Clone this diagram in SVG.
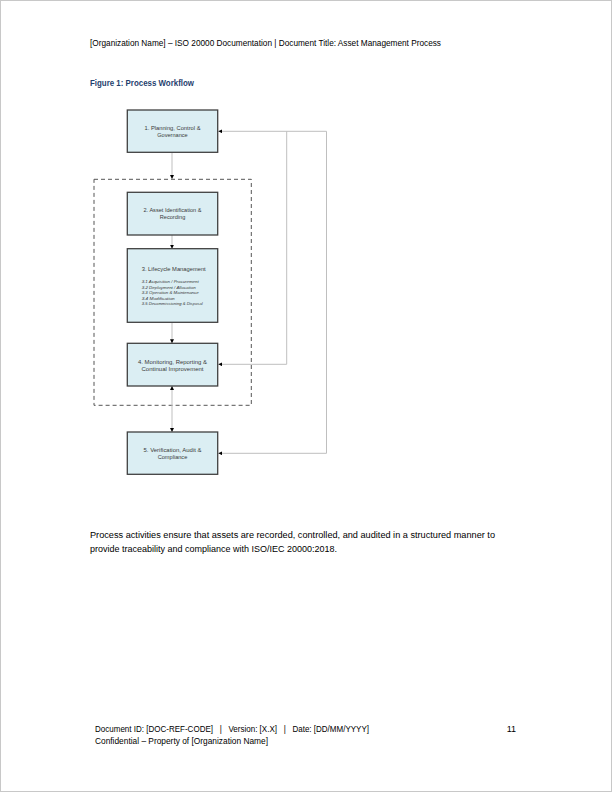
<svg xmlns="http://www.w3.org/2000/svg" width="612" height="792" viewBox="0 0 612 792">
<style>
.t{font-family:"Liberation Sans",Arial,sans-serif;fill:#000}
.f{font-family:"Liberation Sans",Arial,sans-serif;fill:#3a3a3a}
.box{fill:#dbeef3;stroke:#404040;stroke-width:1.3}
.c{fill:none;stroke:#bfbfbf;stroke-width:1}
.pre{white-space:pre}
</style>
<defs>
<marker id="a" viewBox="0 0 10 10" refX="10" refY="5" markerWidth="4" markerHeight="4" orient="auto" markerUnits="userSpaceOnUse">
<path d="M0,0 L10,5 L0,10 z" fill="#000"/>
</marker>
<marker id="as" viewBox="0 0 10 10" refX="0" refY="5" markerWidth="4" markerHeight="4" orient="auto" markerUnits="userSpaceOnUse">
<path d="M10,0 L0,5 L10,10 z" fill="#000"/>
</marker>
</defs>
<rect x="0" y="0" width="612" height="792" fill="#fff"/>
<rect x="0.5" y="0.5" width="611" height="791" fill="none" stroke="#c8c8c8" stroke-width="1"/>

<text class="t" x="90" y="45.5" font-size="9" textLength="351" lengthAdjust="spacingAndGlyphs">[Organization Name] – ISO 20000 Documentation | Document Title: Asset Management Process</text>
<text x="90" y="86" font-size="8.2" font-weight="bold" fill="#1f3f6e" font-family="Liberation Sans,Arial,sans-serif" textLength="104" lengthAdjust="spacingAndGlyphs">Figure 1: Process Workflow</text>

<g id="group-boundary">
<rect x="94" y="179.3" width="157.3" height="226" fill="none" stroke="#555" stroke-width="1" stroke-dasharray="4,3"/>
</g>

<g id="connectors">
<line class="c" x1="172" y1="152.3" x2="172" y2="179" marker-end="url(#a)"/>
<line class="c" x1="172" y1="235" x2="172" y2="248.7" marker-end="url(#a)"/>
<line class="c" x1="172" y1="322.3" x2="172" y2="343.3" marker-end="url(#a)"/>
<line class="c" x1="172" y1="386" x2="172" y2="432" marker-start="url(#as)" marker-end="url(#a)"/>
<path class="c" d="M326.5,131.3 H218.3" marker-end="url(#a)"/>
<path class="c" d="M286.7,131.3 V364.3 H218.3" marker-end="url(#a)"/>
<path class="c" d="M326.5,131.3 V453.3 H218.3" marker-end="url(#a)"/>
</g>

<g id="node1">
<rect class="box" x="127.3" y="110" width="90.4" height="42.3"/>
<text class="f" x="172.5" y="129.5" font-size="5.6" text-anchor="middle" textLength="56" lengthAdjust="spacingAndGlyphs">1. Planning, Control &amp;</text>
<text class="f" x="172.5" y="136.5" font-size="5.6" text-anchor="middle">Governance</text>
</g>

<g id="node2">
<rect class="box" x="127.3" y="192.3" width="90.4" height="42.7"/>
<text class="f" x="172.5" y="211.5" font-size="5.6" text-anchor="middle" textLength="58" lengthAdjust="spacingAndGlyphs">2. Asset Identification &amp;</text>
<text class="f" x="172.5" y="218.5" font-size="5.6" text-anchor="middle">Recording</text>
</g>

<g id="node3">
<rect class="box" x="127.3" y="248.7" width="90.4" height="73.6"/>
<text class="f" x="141.7" y="270.5" font-size="5.6" textLength="64" lengthAdjust="spacingAndGlyphs">3. Lifecycle Management</text>
<g font-size="4.4" font-style="italic">
<text class="f" x="141.7" y="283" textLength="57" lengthAdjust="spacingAndGlyphs">3.1 Acquisition / Procurement</text>
<text class="f" x="141.7" y="288.6" textLength="54" lengthAdjust="spacingAndGlyphs">3.2 Deployment / Allocation</text>
<text class="f" x="141.7" y="294.2" textLength="57" lengthAdjust="spacingAndGlyphs">3.3 Operation &amp; Maintenance</text>
<text class="f" x="141.7" y="299.8" textLength="33" lengthAdjust="spacingAndGlyphs">3.4 Modification</text>
<text class="f" x="141.7" y="305.4" textLength="61" lengthAdjust="spacingAndGlyphs">3.5 Decommissioning &amp; Disposal</text>
</g>
</g>

<g id="node4">
<rect class="box" x="127.3" y="343.3" width="90.4" height="42.7"/>
<text class="f" x="172.5" y="364" font-size="5.6" text-anchor="middle" textLength="69" lengthAdjust="spacingAndGlyphs">4. Monitoring, Reporting &amp;</text>
<text class="f" x="172.5" y="371" font-size="5.6" text-anchor="middle" textLength="62" lengthAdjust="spacingAndGlyphs">Continual Improvement</text>
</g>

<g id="node5">
<rect class="box" x="127.3" y="432" width="90.4" height="42.3"/>
<text class="f" x="172.5" y="452" font-size="5.6" text-anchor="middle" textLength="58" lengthAdjust="spacingAndGlyphs">5. Verification, Audit &amp;</text>
<text class="f" x="172.5" y="459" font-size="5.6" text-anchor="middle">Compliance</text>
</g>

<text class="t" x="90" y="537.5" font-size="9.6" textLength="405" lengthAdjust="spacingAndGlyphs">Process activities ensure that assets are recorded, controlled, and audited in a structured manner to</text>
<text class="t" x="90" y="551.5" font-size="9.6" textLength="247" lengthAdjust="spacingAndGlyphs">provide traceability and compliance with ISO/IEC 20000:2018.</text>

<text class="t pre" x="95" y="732" font-size="9" textLength="274" lengthAdjust="spacingAndGlyphs" xml:space="preserve">Document ID: [DOC-REF-CODE]   |   Version: [X.X]   |   Date: [DD/MM/YYYY]</text>
<text class="t" x="516" y="732" font-size="9" text-anchor="end">11</text>
<text class="t" x="95" y="744" font-size="9" textLength="173" lengthAdjust="spacingAndGlyphs">Confidential – Property of [Organization Name]</text>
</svg>
